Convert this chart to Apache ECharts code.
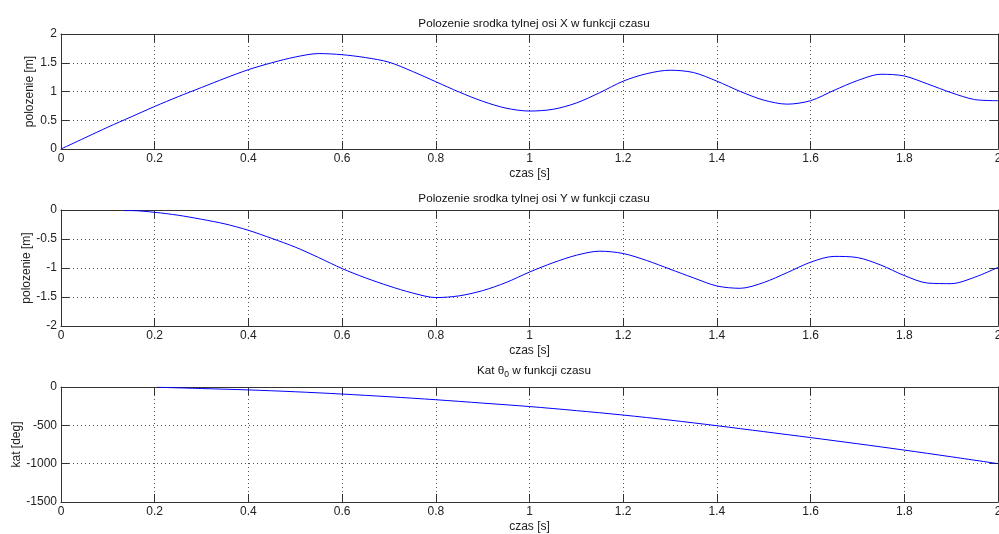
<!DOCTYPE html>
<html>
<head>
<meta charset="utf-8">
<script src="https://cdn.jsdelivr.net/npm/echarts@6/dist/echarts.min.js"></script>
<style>html,body{margin:0;padding:0;background:#fff}#c{width:999px;height:534px}</style>
</head>
<body>
<div id="c"></div>
<script>
// ---- data ----
var titles = ['Polozenie srodka tylnej osi X w funkcji czasu', 'Polozenie srodka tylnej osi Y w funkcji czasu', 'Kat {s|θ}{sub|0} w funkcji czasu'];
var yNames = ['polozenie [m]', 'polozenie [m]', 'kat [deg]'];
var xName = 'czas [s]';
var xTicks = [0, 0.2, 0.4, 0.6, 0.8, 1, 1.2, 1.4, 1.6, 1.8, 2];

var tX = [0,0.05,0.1,0.15,0.2,0.25,0.3,0.35,0.4,0.45,0.5,0.55,0.6,0.65,0.7,0.75,0.8,0.85,0.9,0.95,1.0,1.05,1.1,1.15,1.2,1.25,1.3,1.35,1.4,1.45,1.5,1.55,1.6,1.65,1.7,1.75,1.8,1.85,1.9,1.95,2.0];
var posX = [0,0.19,0.38,0.56,0.74,0.91,1.07,1.23,1.38,1.50,1.60,1.66,1.64,1.59,1.51,1.35,1.17,0.99,0.83,0.71,0.66,0.69,0.80,0.98,1.18,1.31,1.37,1.33,1.18,1.00,0.85,0.78,0.84,1.02,1.19,1.30,1.27,1.13,0.98,0.86,0.84];

var tY = [0.135,0.15,0.2,0.25,0.3,0.35,0.4,0.45,0.5,0.55,0.6,0.65,0.7,0.75,0.8,0.85,0.9,0.95,1.0,1.05,1.1,1.15,1.2,1.25,1.3,1.35,1.4,1.45,1.5,1.55,1.6,1.65,1.7,1.75,1.8,1.85,1.9,1.95,2.0];
var posY = [-0.01,-0.01,-0.04,-0.09,-0.16,-0.24,-0.35,-0.49,-0.64,-0.82,-1.01,-1.17,-1.31,-1.43,-1.51,-1.48,-1.39,-1.25,-1.07,-0.91,-0.78,-0.71,-0.75,-0.87,-1.02,-1.17,-1.31,-1.35,-1.25,-1.08,-0.90,-0.80,-0.82,-0.95,-1.13,-1.26,-1.27,-1.16,-0.99];

var tTheta = [0.205,0.3,0.4,0.5,0.6,0.7,0.8,0.9,1.0,1.1,1.2,1.3,1.4,1.5,1.6,1.7,1.8,1.9,2.0];
var theta = [-3,-20,-38,-62,-92,-127,-166,-210,-255,-308,-366,-432,-505,-582,-660,-740,-823,-910,-1000];

var yRanges = [[0, 2, 0.5], [-2, 0, 0.5], [-1500, 0, 500]];

// ---- chart ----
function zip(a, b) { return a.map(function (v, i) { return [v, b[i]]; }); }
var seriesData = [zip(tX, posX), zip(tY, posY), zip(tTheta, theta)];

var gridTops = [34, 210, 387];
var gridH = [115, 116, 115];
var titleTops = [13, 188, 358];
var yNameGaps = [25, 28, 38];
var axisColor = '#333';
var font = '"Liberation Sans", Arial, Helvetica, sans-serif';
var fs = 12, tfs = 11.7;
function fmt(v) { return String(+(+v).toFixed(4)); }

var grids = [], xAxes = [], yAxes = [], series = [], titleOpts = [];
for (var i = 0; i < 3; i++) {
  grids.push({ left: 61, top: gridTops[i], width: 937, height: gridH[i], containLabel: false, outerBoundsMode: 'none' });
  titleOpts.push({
    text: titles[i], left: 529, top: titleTops[i], textAlign: 'center',
    textStyle: { fontSize: tfs, fontWeight: 'normal', color: '#111', fontFamily: font,
      rich: { s: { fontSize: tfs, color: '#111', fontFamily: font }, sub: { fontSize: 8.5, color: '#111', fontFamily: font, padding: [7, 0, 0, 0] } } }
  });
  xAxes.push({
    type: 'value', gridIndex: i, min: 0, max: 2, interval: 0.2, position: 'bottom',
    name: xName, nameLocation: 'middle', nameGap: 19, nameMoveOverlap: false,
    nameTextStyle: { fontSize: fs, color: '#222', fontFamily: font },
    axisLine: { show: true, onZero: false, lineStyle: { color: axisColor, width: 1 } },
    axisTick: { show: true, inside: true, length: 8, lineStyle: { color: axisColor } },
    axisLabel: { fontSize: fs, color: '#222', margin: 4, fontFamily: font, showMaxLabel: true, formatter: fmt, hideOverlap: false },
    splitLine: { show: true, lineStyle: { color: '#555', type: [1, 3], width: 1 } }
  });
  xAxes.push({
    type: 'value', gridIndex: i, min: 0, max: 2, interval: 0.2, position: 'top',
    axisLine: { show: true, onZero: false, lineStyle: { color: axisColor, width: 1 } },
    axisTick: { show: true, inside: true, length: 8, lineStyle: { color: axisColor } },
    axisLabel: { show: false }, splitLine: { show: false }
  });
  var r = yRanges[i];
  yAxes.push({
    type: 'value', gridIndex: i, min: r[0], max: r[1], interval: r[2], position: 'left',
    name: yNames[i], nameLocation: 'middle', nameGap: yNameGaps[i], nameRotate: 90, nameMoveOverlap: false,
    nameTextStyle: { fontSize: fs, color: '#222', fontFamily: font },
    axisLine: { show: true, onZero: false, lineStyle: { color: axisColor, width: 1 } },
    axisTick: { show: true, inside: true, length: 8, lineStyle: { color: axisColor } },
    axisLabel: { fontSize: fs, color: '#222', margin: 4, fontFamily: font, showMinLabel: true, showMaxLabel: true, formatter: fmt, hideOverlap: false },
    splitLine: { show: true, lineStyle: { color: '#555', type: [1, 3], width: 1 } }
  });
  yAxes.push({
    type: 'value', gridIndex: i, min: r[0], max: r[1], interval: r[2], position: 'right',
    axisLine: { show: true, onZero: false, lineStyle: { color: axisColor, width: 1 } },
    axisTick: { show: true, inside: true, length: 8, lineStyle: { color: axisColor } },
    axisLabel: { show: false }, splitLine: { show: false }
  });
  series.push({
    type: 'line', xAxisIndex: 2 * i, yAxisIndex: 2 * i, data: seriesData[i],
    smooth: 0.3, showSymbol: false, symbol: 'none', animation: false,
    lineStyle: { color: '#0000ff', width: 1 }, clip: true
  });
}

var chart = echarts.init(document.getElementById('c'), null, { renderer: 'canvas' });
chart.setOption({
  animation: false,
  backgroundColor: '#fff',
  title: titleOpts,
  grid: grids,
  xAxis: xAxes,
  yAxis: yAxes,
  series: series
});
</script>
</body>
</html>
